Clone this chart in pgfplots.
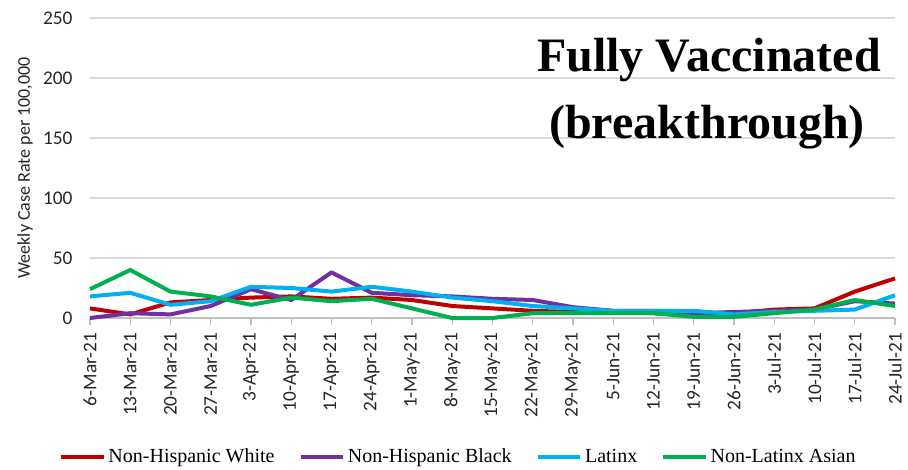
\documentclass[border=0pt]{standalone}
\usepackage{fontspec}
\setmainfont{Carlito}
\newfontfamily\legfont{Liberation Serif}
\newfontfamily\titlefont{Liberation Serif}
\usepackage{pgfplots}
\pgfplotsset{compat=1.18}
\definecolor{cwhite}{HTML}{C00000}
\definecolor{cblack}{HTML}{7030A0}
\definecolor{clatinx}{HTML}{00B0F0}
\definecolor{casian}{HTML}{00B050}
\definecolor{gridgray}{HTML}{D9D9D9}
\definecolor{axgray}{HTML}{BFBFBF}
\begin{document}
\begin{tikzpicture}
\useasboundingbox (-67.5pt,-113.25pt) rectangle (613.5pt,238.5pt);
\begin{axis}[
  name=ax, at={(0,0)}, anchor=south west,
  scale only axis, width=603.75pt, height=225pt,
  xmin=0, xmax=20, ymin=0, ymax=250,
  ytick={0,50,100,150,200,250},
  xtick={0,...,20},
  xticklabels={6-Mar-21,13-Mar-21,20-Mar-21,27-Mar-21,3-Apr-21,10-Apr-21,17-Apr-21,24-Apr-21,1-May-21,8-May-21,15-May-21,22-May-21,29-May-21,5-Jun-21,12-Jun-21,19-Jun-21,26-Jun-21,3-Jul-21,10-Jul-21,17-Jul-21,24-Jul-21},
  /pgf/number format/assume math mode=true,
  axis x line*=bottom, axis y line*=left,
  x axis line style={draw=axgray, line width=1pt, -},
  y axis line style={draw=none, -},
  ymajorgrids, grid style={draw=gridgray, line width=1pt},
  xtick style={draw=axgray, line width=1pt},
  ytick style={draw=none},
  xtick align=outside, major tick length=5pt,
  tick label style={font=\fontsize{14.5}{17}\selectfont, text=black!85},
  xticklabel style={rotate=90, anchor=east, inner sep=0pt, xshift=-6pt},
  yticklabel style={anchor=east, inner sep=0pt, xshift=-13pt},
  ylabel={Weekly Case Rate per 100,000},
  ylabel style={font=\fontsize{13.5}{16}\selectfont, text=black!85, at={(axis description cs:-0.0807,0.5)}, anchor=center},
  clip=false,
  legend columns=4,
  legend style={draw=none, fill=none, at={(0.458,-0.463)}, anchor=center,
    font=\legfont\fontsize{15}{18}\selectfont, inner sep=0pt,
    /tikz/every even column/.append style={column sep=16pt}},
  legend image code/.code={\draw[#1, line width=3pt] (0pt,0pt) -- (32pt,0pt);},
  every axis plot/.append style={line width=3pt, line join=round, mark=none},
]
\addplot[cwhite] coordinates {(0,8)(1,3)(2,13)(3,15)(4,17)(5,18)(6,16)(7,17)(8,15)(9,10)(10,8)(11,6)(12,5)(13,5)(14,4)(15,3)(16,4)(17,7)(18,8)(19,22)(20,33)};
\addlegendentry{Non-Hispanic White}
\addplot[cblack] coordinates {(0,0)(1,4)(2,3)(3,10)(4,24)(5,15)(6,38)(7,21)(8,19)(9,18)(10,16)(11,15)(12,9)(13,6)(14,6)(15,4)(16,5)(17,6)(18,7)(19,14)(20,12)};
\addlegendentry{Non-Hispanic Black}
\addplot[clatinx] coordinates {(0,18)(1,21)(2,11)(3,14)(4,26)(5,25)(6,22)(7,26)(8,22)(9,17)(10,14)(11,10)(12,8)(13,6)(14,6)(15,6)(16,3)(17,5)(18,6)(19,7)(20,19)};
\addlegendentry{Latinx}
\addplot[casian] coordinates {(0,24)(1,40)(2,22)(3,18)(4,11)(5,17)(6,14)(7,16)(8,8)(9,0)(10,0)(11,4)(12,4)(13,4)(14,4)(15,1)(16,1)(17,4)(18,7)(19,15)(20,10)};
\addlegendentry{Non-Latinx Asian}
\node[anchor=base, inner sep=0pt, font=\titlefont\bfseries\fontsize{36}{40}\selectfont] at (axis cs:15.38,205.8) {Fully Vaccinated};
\node[anchor=base, inner sep=0pt, font=\titlefont\bfseries\fontsize{36}{40}\selectfont] at (axis cs:15.33,150) {(breakthrough)};
\end{axis}
\end{tikzpicture}
\end{document}
